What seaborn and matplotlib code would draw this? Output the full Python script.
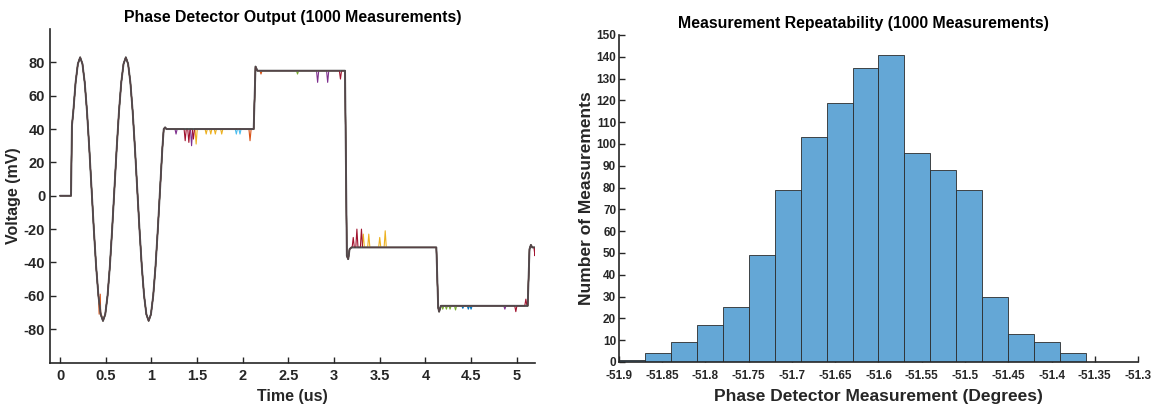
import numpy as np
import pandas as pd
import matplotlib
matplotlib.use("Agg")
import matplotlib.pyplot as plt
import matplotlib.ticker as mticker
import seaborn as sns

# Phase detector output - base waveform (us, mV)
wave_t = [0.00, 0.12, 0.13, 0.145, 0.17, 0.195, 0.22, 0.245, 0.27, 0.295, 0.32,
          0.345, 0.37, 0.395, 0.42, 0.445, 0.47, 0.495, 0.52, 0.545, 0.57,
          0.595, 0.62, 0.645, 0.67, 0.695, 0.72, 0.745, 0.77, 0.795, 0.82,
          0.845, 0.87, 0.895, 0.92, 0.945, 0.97, 0.995, 1.02, 1.045, 1.07,
          1.095, 1.12, 1.135, 1.15, 1.165, 2.12, 2.14, 2.16, 3.12, 3.14,
          3.155, 3.17, 3.19, 4.12, 4.14, 4.15, 4.17, 5.12, 5.14, 5.155,
          5.17, 5.20]
wave_v = [0.0, 0.0, 42.0, 50.5, 67.9, 79.1, 83.0, 79.1, 67.9, 50.5, 28.4,
          4.0, -20.4, -42.5, -59.9, -71.1, -75.0, -71.1, -59.9, -42.5, -20.4,
          4.0, 28.4, 50.5, 67.9, 79.1, 83.0, 79.1, 67.9, 50.5, 28.4,
          4.0, -20.4, -42.5, -59.9, -71.1, -75.0, -71.1, -59.9, -42.5, -20.4,
          4.0, 28.4, 40.0, 41.0, 40.0, 40.0, 77.5, 75.0, 75.0, -36.0,
          -38.0, -32.0, -31.0, -31.0, -67.0, -69.5, -66.0, -66.0, -32.0, -29.5,
          -31.0, -31.0]

# glitches seen in individual measurements: trace index, time, settled level, peak
glitch_trace = [1, 3, 6, 6, 3, 6, 2, 2, 2, 2, 2, 5, 5, 1,
                1, 4, 3, 3, 6,
                6, 6, 6, 2, 2, 2, 2,
                4, 4, 4, 4, 0, 0, 0, 3, 6, 6, 6]
glitch_t = [0.44, 1.27, 1.37, 1.41, 1.44, 1.46, 1.49, 1.60, 1.65, 1.70, 1.77, 1.93, 1.97, 2.08,
            2.20, 2.60, 2.82, 2.93, 3.07,
            3.21, 3.25, 3.30, 3.32, 3.38, 3.50, 3.56,
            4.19, 4.23, 4.27, 4.33, 4.41, 4.47, 4.50, 4.87, 4.99, 5.10, 5.20]
glitch_level = [-71, 40, 40, 40, 40, 40, 40, 40, 40, 40, 40, 40, 40, 40,
                75, 75, 75, 75, 75,
                -31, -31, -31, -31, -31, -31, -31,
                -66, -66, -66, -66, -66, -66, -66, -66, -66, -66, -31]
glitch_v = [-59, 37, 33, 32, 30, 34, 31, 37, 37, 37, 37, 37, 37, 33,
            73, 73, 68, 68, 70,
            -25, -20, -20, -23, -23, -25, -21,
            -68, -68, -68, -68.5, -67.5, -68, -68, -68, -69.5, -62, -36]

trace_colors = ["#0072BD", "#D95319", "#EDB120", "#7E2F8E", "#77AC30", "#4DBEEE", "#A2142F"]

# Histogram of repeated phase measurements (degrees)
bin_edges = [-51.90, -51.87, -51.84, -51.81, -51.78, -51.75, -51.72, -51.69, -51.66,
             -51.63, -51.60, -51.57, -51.54, -51.51, -51.48, -51.45, -51.42, -51.39, -51.36]
bin_counts = [1, 4, 9, 17, 25, 49, 79, 103, 119, 135, 141, 96, 88, 79, 30, 13, 9, 4]

left_xticks = [0, 0.5, 1, 1.5, 2, 2.5, 3, 3.5, 4, 4.5, 5]
left_yticks = [-80, -60, -40, -20, 0, 20, 40, 60, 80]
right_xticks = [-51.9, -51.85, -51.8, -51.75, -51.7, -51.65, -51.6, -51.55,
                -51.5, -51.45, -51.4, -51.35, -51.3]
right_yticks = list(range(0, 151, 10))

sns.set_theme(style="ticks")
plt.rcParams['font.family'] = ['Liberation Sans', 'DejaVu Sans']
plt.rcParams['axes.unicode_minus'] = False
plt.rcParams['xtick.direction'] = 'in'
plt.rcParams['ytick.direction'] = 'in'

fig = plt.figure(figsize=(11.55, 4.04), dpi=100)
ax1 = fig.add_axes([0.0433, 0.1027, 0.4199, 0.8255])
ax2 = fig.add_axes([0.5359, 0.104, 0.4494, 0.8094])

# build per-trace frames: base waveform plus its own glitches
rows = []
for k in range(len(trace_colors)):
    tt = list(wave_t)
    vv = list(wave_v)
    for g in range(len(glitch_t)):
        if glitch_trace[g] != k:
            continue
        tt += [glitch_t[g] - 0.012, glitch_t[g], glitch_t[g] + 0.012]
        vv += [glitch_level[g], glitch_v[g], glitch_level[g]]
    rows.append(pd.DataFrame({"t": tt, "v": vv, "trace": k}))
traces = pd.concat(rows, ignore_index=True)

sns.lineplot(data=traces, x="t", y="v", hue="trace", palette=trace_colors,
             estimator=None, linewidth=0.8, legend=False, ax=ax1)
mean_df = pd.DataFrame({"t": wave_t, "v": wave_v})
sns.lineplot(data=mean_df, x="t", y="v", color="#4a4a4a", linewidth=1.4,
             alpha=0.85, estimator=None, ax=ax1)

ax1.set_xlim(-0.11, 5.2)
ax1.set_ylim(-100, 100)
ax1.set_xticks(left_xticks)
ax1.set_yticks(left_yticks)
ax1.xaxis.set_major_formatter(mticker.FormatStrFormatter('%g'))
ax1.set_xlabel("Time (us)", fontsize=11.5, fontweight="bold", color="#262626", labelpad=4)
ax1.set_ylabel("Voltage (mV)", fontsize=11.5, fontweight="bold", color="#262626", labelpad=2)
ax1.set_title("Phase Detector Output (1000 Measurements)", fontsize=11.4,
              fontweight="bold", color="black", pad=5)
ax1.tick_params(labelsize=10.5, length=4, width=1, colors="#262626")
ax1.tick_params(axis="x", pad=5)
for lab in ax1.get_xticklabels() + ax1.get_yticklabels():
    lab.set_fontweight("bold")

# histogram from the bin counts
centers = [(bin_edges[i] + bin_edges[i + 1]) / 2 for i in range(len(bin_counts))]
sns.histplot(x=centers, weights=bin_counts, bins=bin_edges, ax=ax2,
             color="#64A7D6", alpha=1, edgecolor="#2b2b2b", linewidth=0.6)

ax2.set_xlim(-51.9, -51.3)
ax2.set_ylim(0, 150)
ax2.set_xticks(right_xticks)
ax2.set_yticks(right_yticks)
ax2.xaxis.set_major_formatter(mticker.FormatStrFormatter('%g'))
ax2.set_xlabel("Phase Detector Measurement (Degrees)", fontsize=12.5, fontweight="bold",
               color="#262626", labelpad=5)
ax2.set_ylabel("Number of Measurements", fontsize=12.5, fontweight="bold", color="#262626", labelpad=2)
ax2.set_title("Measurement Repeatability (1000 Measurements)", fontsize=11.4,
              fontweight="bold", color="black", pad=5, x=0.471)
ax2.tick_params(labelsize=8.5, length=4, width=1, colors="#262626")
ax2.tick_params(axis="x", pad=6)
ax2.tick_params(axis="y", pad=2)
for lab in ax2.get_xticklabels() + ax2.get_yticklabels():
    lab.set_fontweight("bold")

for ax in (ax1, ax2):
    sns.despine(ax=ax)
    for s in ("left", "bottom"):
        ax.spines[s].set_linewidth(1.2)
        ax.spines[s].set_color("#262626")

fig.savefig("out.png", dpi=100)
